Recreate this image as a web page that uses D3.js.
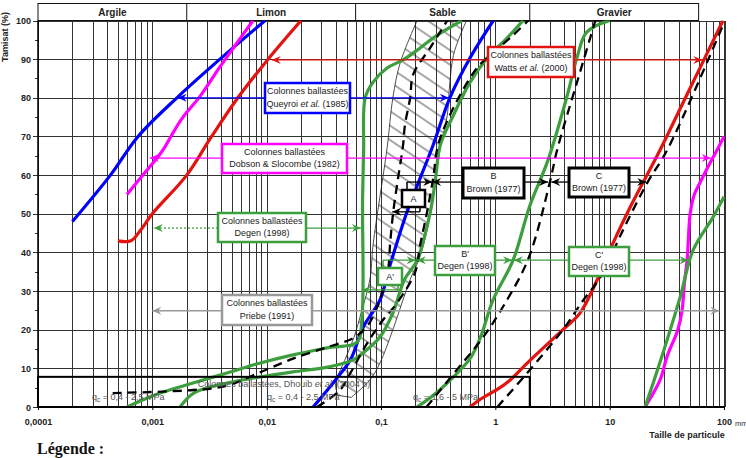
<!doctype html>
<html>
<head>
<meta charset="utf-8">
<title>Fuseaux granulométriques - colonnes ballastées</title>
<script src="https://cdnjs.cloudflare.com/ajax/libs/d3/7.8.5/d3.min.js"></script>
<style>
  body { margin: 0; background: #fff; }
  svg { display: block; font-family: "Liberation Sans", Arial, sans-serif; }
</style>
</head>
<body>
<div id="chart"></div>
<script>
// axes
const xTickValues = [0.0001, 0.001, 0.01, 0.1, 1, 10, 100];
const xTickLabels = ["0,0001", "0,001", "0,01", "0,1", "1", "10", "100"];
const yTickValues = [0, 10, 20, 30, 40, 50, 60, 70, 80, 90, 100];
const soilNames = ["Argile", "Limon", "Sable", "Gravier"];
const soilLimits = [0.0001, 0.002, 0.06, 2, 60];

// grading curves [size mm, passing %]
const queyroiFine = [[0.0002,48],[0.00043,60],[0.00075,70],[0.00164,80],[0.0039,90],[0.0097,100]];
const queyroiCoarse = [[0.0255,0],[0.04,7],[0.054,12.2],[0.07,20.7],[0.098,27.7],[0.12,36.7],[0.169,50.5],[0.22,59.2],[0.286,67.8],[0.4,80],[0.6,90.3],[0.96,100]];
const dobsonFine = [[0.0006,55],[0.0008,59.5],[0.0011,64.4],[0.00124,66.5],[0.0018,74.5],[0.0026,80.3],[0.0039,88],[0.0055,94.2],[0.0076,100]];
const dobsonCoarse = [[20.4,0],[27.6,7],[31.7,13],[39.5,20],[43,25],[45,32],[47.6,38],[50.6,50],[55,55],[61.6,58],[75,63],[87,66.5],[100,70]];
const wattsFine = [[0.0005,43],[0.00065,43],[0.0008,46],[0.001,50],[0.002,60],[0.0033,70],[0.0056,80],[0.0103,90],[0.02,100]];
const wattsCoarse = [[0.6,0],[0.74,2],[1.1,5],[1.35,7],[2,12],[3.9,20],[5.5,24.3],[7.8,33],[10.7,42.4],[15.1,51.7],[27.6,66.5],[46,80],[98,100]];
const degenAFine = [[0.0006,0],[0.00117,3.6],[0.00227,6.2],[0.0045,8.8],[0.0088,11.4],[0.017,13.5],[0.0337,15.3],[0.0617,16.8],[0.068,22.5],[0.069,53.6],[0.0705,66.5],[0.0727,80],[0.085,84],[0.113,87.7],[0.156,89.8],[0.22,92.9],[0.31,96.2],[0.51,100]];
const degenAB = [[0.00175,0],[0.0023,3.6],[0.0045,6.2],[0.0088,7.8],[0.017,9.1],[0.034,10.3],[0.057,12.2],[0.08,15.5],[0.098,18.1],[0.127,24.3],[0.16,32.9],[0.207,38],[0.27,50.5],[0.3,59.2],[0.33,67.8],[0.43,75.5],[0.6,84],[0.85,90.3],[1.27,95.5],[1.75,100]];
const degenBC = [[0.207,0],[0.3,3.5],[0.43,7.8],[0.6,12.5],[0.74,18],[0.955,27.7],[1.43,38],[2.0,52],[2.9,64],[4.2,80],[5.2,90.6],[6.3,97],[10,100]];
const degenCCoarse = [[20.4,0],[26.5,10],[41.4,28.5],[53.7,40.6],[80.5,49.2],[100,54.4]];
const brownAFine = [[0.00045,3.6],[0.0023,4.4],[0.0045,5.5],[0.0088,9],[0.017,12.5],[0.034,15.5],[0.057,17.8],[0.076,21],[0.093,26],[0.104,30.3],[0.115,35],[0.12,42],[0.128,50.5],[0.141,59.2],[0.156,67.8],[0.162,73],[0.18,80],[0.191,86],[0.27,93],[0.38,100]];
const brownAB = [[0.0276,0],[0.044,4.4],[0.054,8.8],[0.076,16.6],[0.104,22.5],[0.138,26.9],[0.199,34.9],[0.22,41.9],[0.253,50.5],[0.286,59.2],[0.316,67.8],[0.43,77.4],[0.69,87.7],[0.9,91],[1.43,96.2],[1.94,100]];
const brownBC = [[0.25,0],[0.46,9.6],[0.78,18],[1.17,26],[1.94,38.3],[3.0,58.2],[3.47,66.5],[5.3,85],[7.5,100]];
const brownCCoarse = [[1.04,0],[1.9,8.8],[3.9,20],[5.9,27.7],[8.3,33.6],[13.1,45.8],[21.3,58],[31.9,66.5],[100,99.4]];
// hatched zone (outline)
const hatchLeft = [[0.207,100],[0.147,89],[0.127,80],[0.113,67],[0.0853,42],[0.08,33],[0.068,25],[0.058,18],[0.048,12],[0.04,6],[0.042,3]];
const hatchRight = [[0.055,2.5],[0.08,7],[0.098,11.4],[0.127,20],[0.18,33],[0.22,39],[0.27,50],[0.33,67],[0.38,75.5],[0.4,84],[0.43,91],[0.49,96],[0.56,100]];

const W = 746, H = 458;
const RED = "#e3130f", BLUE = "#0000ff", MAG = "#ff00ff", GREEN = "#3c9e3c", GREY = "#999";

const svg = d3.select("#chart").append("svg").attr("width", W).attr("height", H);

const x = d3.scaleLog().domain([0.0001, 100]).range([38, 724]);
const y = d3.scaleLinear().domain([0, 100]).range([407, 20.5]);

const defs = svg.append("defs");
defs.append("clipPath").attr("id", "plot")
  .append("rect").attr("x", 38).attr("y", 20.5).attr("width", 687).attr("height", 386.5);

function marker(id, color) {
  defs.append("marker").attr("id", id)
    .attr("viewBox", "-10 -5 11 10").attr("refX", 0).attr("refY", 0)
    .attr("markerWidth", 11).attr("markerHeight", 10)
    .attr("markerUnits", "userSpaceOnUse").attr("orient", "auto")
    .append("path").attr("d", "M-9,-4 L0,0 L-9,4 L-6,0 Z").attr("fill", color);
}
marker("m-red", RED); marker("m-blue", BLUE); marker("m-mag", MAG);
marker("m-green", GREEN); marker("m-grey", GREY); marker("m-black", "#000");

const pat = defs.append("pattern").attr("id", "hatch")
  .attr("patternUnits", "userSpaceOnUse").attr("width", 12).attr("height", 12)
  .attr("patternTransform", "rotate(34)");
pat.append("line").attr("x1", 0).attr("x2", 12).attr("y1", 6).attr("y2", 6)
  .attr("stroke", "#222").attr("stroke-width", 0.8);

// grid
const grid = svg.append("g").attr("stroke", "#333").attr("stroke-width", 1).attr("shape-rendering", "crispEdges");
grid.selectAll("line.v").data(x.ticks()).join("line")
  .attr("x1", d => Math.round(x(d)) + 0.5).attr("x2", d => Math.round(x(d)) + 0.5)
  .attr("y1", y(100)).attr("y2", y(0));
grid.selectAll("line.h").data(yTickValues).join("line")
  .attr("x1", 33).attr("x2", 725)
  .attr("y1", d => Math.round(y(d)) + 0.5).attr("y2", d => Math.round(y(d)) + 0.5);
grid.selectAll("line.m").data(yTickValues.slice(1).map(d => d - 5)).join("line")
  .attr("x1", 35).attr("x2", 38)
  .attr("y1", d => Math.round(y(d)) + 0.5).attr("y2", d => Math.round(y(d)) + 0.5);
grid.append("line").attr("x1", 725.5).attr("x2", 725.5).attr("y1", y(100)).attr("y2", y(0));

// x axis labels
const xAxis = svg.append("g").attr("transform", `translate(0,${y(0)})`)
  .call(d3.axisBottom(x).tickValues(xTickValues).tickSize(3)
    .tickFormat((d, i) => xTickLabels[i]));
xAxis.select(".domain").remove();
xAxis.selectAll("text").attr("font-size", 9).attr("font-weight", "bold")
  .attr("fill", "#222").attr("dy", "1.3em").attr("font-family", "Liberation Sans, Arial, sans-serif");
svg.append("text").attr("x", 735).attr("y", 426).attr("font-size", 7.5).attr("fill", "#333").text("mm");

// y axis labels
svg.append("g").selectAll("text").data(yTickValues).join("text")
  .attr("x", 31).attr("y", d => y(d) + 3.5).attr("text-anchor", "end")
  .attr("font-size", 9).attr("font-weight", "bold").attr("fill", "#222").text(d => d);

svg.append("text").attr("transform", "translate(8,37) rotate(-90)")
  .attr("text-anchor", "middle").attr("font-size", 9).attr("font-weight", "bold")
  .attr("fill", "#222").text("Tamisat (%)");
svg.append("text").attr("x", 687).attr("y", 438).attr("text-anchor", "middle")
  .attr("font-size", 9).attr("font-weight", "bold").attr("fill", "#222").text("Taille de particule");

// soil class header
const head = svg.append("g");
head.append("rect").attr("x", x(soilLimits[0])).attr("y", 3.5)
  .attr("width", x(soilLimits[4]) - x(soilLimits[0])).attr("height", 17)
  .attr("fill", "none").attr("stroke", "#111");
head.selectAll("line").data(soilLimits.slice(1, 4)).join("line")
  .attr("x1", d => x(d)).attr("x2", d => x(d)).attr("y1", 3.5).attr("y2", 20.5).attr("stroke", "#111");
head.selectAll("text").data(soilNames).join("text")
  .attr("x", (d, i) => (x(soilLimits[i]) + x(soilLimits[i + 1])) / 2).attr("y", 15.5)
  .attr("text-anchor", "middle").attr("font-size", 10).attr("font-weight", "bold")
  .attr("fill", "#222").text(d => d);

// hatched zone
const line = d3.line().x(d => x(d[0])).y(d => y(d[1])).curve(d3.curveCatmullRom.alpha(0.5));
const plot = svg.append("g").attr("clip-path", "url(#plot)");
plot.append("path").attr("d", line(hatchLeft) + "L" + line(hatchRight).slice(1) + "Z")
  .attr("fill", "url(#hatch)").attr("stroke", "#222").attr("stroke-width", 0.8);

// curves
const curves = [
  [queyroiFine, BLUE, null], [queyroiCoarse, BLUE, null],
  [dobsonFine, MAG, null], [dobsonCoarse, MAG, null],
  [wattsFine, RED, null], [wattsCoarse, RED, null],
  [degenAFine, GREEN, null], [degenAB, GREEN, null], [degenBC, GREEN, null], [degenCCoarse, GREEN, null],
  [brownAFine, "#000", "9,6"], [brownAB, "#000", "9,6"], [brownBC, "#000", "9,6"], [brownCCoarse, "#000", "9,6"]
];
plot.selectAll("path.curve").data(curves).join("path").attr("class", "curve")
  .attr("d", d => line(d[0])).attr("fill", "none")
  .attr("stroke", d => d[1]).attr("stroke-width", d => d[2] ? 2.3 : 3.2)
  .attr("stroke-dasharray", d => d[2]).attr("stroke-linejoin", "round");

// axis line & Dhouib band
svg.append("line").attr("x1", 38).attr("x2", 725).attr("y1", y(0)).attr("y2", y(0))
  .attr("stroke", "#000").attr("stroke-width", 2);
svg.append("line").attr("x1", 38).attr("x2", 38).attr("y1", y(100)).attr("y2", y(0))
  .attr("stroke", "#000").attr("stroke-width", 1.5);
svg.append("rect").attr("x", x(0.0001)).attr("y", y(7.8))
  .attr("width", x(2) - x(0.0001)).attr("height", y(0) - y(7.8))
  .attr("fill", "none").attr("stroke", "#000").attr("stroke-width", 2);
const dh = svg.append("text").attr("x", 284).attr("y", 387).attr("text-anchor", "middle")
  .attr("font-size", 9).attr("fill", "#555");
dh.append("tspan").text("Colonnes ballastées, Dhouib ");
dh.append("tspan").attr("font-style", "italic").text("et al.");
dh.append("tspan").text(" (2004 b)");
function qc(px, txt) {
  const t = svg.append("text").attr("x", px).attr("y", 400).attr("font-size", 9).attr("fill", "#555");
  t.append("tspan").text("q");
  t.append("tspan").attr("font-size", 6.5).attr("dy", 2).text("c");
  t.append("tspan").attr("dy", -2).text(" = " + txt);
}
qc(92, "0,4 - 2,5 MPa"); qc(267, "0,4 - 2,5 MPa"); qc(413, "1,6 - 5 MPa");

// annotation helpers
function arrow(fromPx, toVal, yVal, color, id, dash, w) {
  svg.append("line").attr("x1", fromPx).attr("x2", x(toVal) - 1)
    .attr("y1", y(yVal)).attr("y2", y(yVal))
    .attr("stroke", color).attr("stroke-width", w || 1.3)
    .attr("stroke-dasharray", dash || null).attr("marker-end", `url(#${id})`);
}
function box(x0, y0, w, h, color, sw, lines) {
  svg.append("rect").attr("x", x0).attr("y", y0).attr("width", w).attr("height", h)
    .attr("fill", "#fff").attr("stroke", color).attr("stroke-width", sw);
  const cy = y0 + h / 2;
  const base = lines.length === 1 ? [cy + 3.5] : [cy - 4, cy + 8.5];
  lines.forEach((ln, i) => {
    const t = svg.append("text").attr("x", x0 + w / 2).attr("y", base[i])
      .attr("text-anchor", "middle").attr("font-size", 9).attr("fill", "#1a1a1a");
    (Array.isArray(ln) ? ln : [ln]).forEach((part, j) => {
      t.append("tspan").attr("font-style", j === 1 ? "italic" : null).text(part);
    });
  });
}

// Watts et al. (2000)
arrow(488, 0.0113, 89.8, RED, "m-red"); arrow(574, 66, 89.8, RED, "m-red");
box(488, 47, 86, 30, RED, 2.5, ["Colonnes ballastées", ["Watts ", "et al.", "  (2000)"]]);
// Queyroi et al. (1985)
arrow(265, 0.0017, 80, BLUE, "m-blue"); arrow(350, 0.4, 80, BLUE, "m-blue");
box(265, 83, 85, 30, BLUE, 2.5, ["Colonnes ballastées", ["Queyroi ", "et al.", "  (1985)"]]);
// Dobson & Slocombe (1982)
arrow(222, 0.00097, 64.4, MAG, "m-mag"); arrow(347, 78, 64.4, MAG, "m-mag");
box(222, 144, 125, 29, MAG, 2.5, ["Colonnes ballastées", "Dobson & Slocombe (1982)"]);
// Degen (1998)
arrow(218, 0.00105, 46.3, GREEN, "m-green", "2,2"); arrow(306, 0.068, 46.3, GREEN, "m-green");
box(218, 213, 88, 29, GREEN, 2.5, ["Colonnes ballastées", "Degen (1998)"]);
// Priebe (1991)
arrow(222, 0.00102, 24.9, GREY, "m-grey"); arrow(312, 93, 24.9, GREY, "m-grey");
box(222, 295, 90, 30, GREY, 2.5, ["Colonnes ballastées", "Priebe (1991)"]);

// Brown (1977) A, B, C
svg.append("path").attr("d", `M407,190 V${y(58.2)} M420,${y(58.2)} V${y(50.5)}`)
  .attr("stroke", "#000").attr("stroke-width", 1.5).attr("fill", "none");
arrow(407, 0.286, 58.2, "#000", "m-black"); arrow(420, 0.128, 50.5, "#000", "m-black");
box(402, 190, 23, 17, "#000", 2.5, ["A"]);
arrow(463, 0.286, 58.2, "#000", "m-black"); arrow(524, 2.95, 58.2, "#000", "m-black");
box(463, 168, 61, 30, "#000", 3, ["B", "Brown (1977)"]);
arrow(569, 3.15, 58.2, "#000", "m-black"); arrow(629, 21.3, 58.2, "#000", "m-black");
box(569, 168, 60, 29, "#000", 3, ["C", "Brown (1977)"]);

// Degen (1998) A', B', C'
svg.append("path").attr("d", `M383,268 V${y(38)} M398,285 V${y(30.3)}`)
  .attr("stroke", GREEN).attr("stroke-width", 1.5).attr("fill", "none");
arrow(383, 0.205, 38, GREEN, "m-green"); arrow(398, 0.0695, 30.3, GREEN, "m-green");
box(378, 268, 24, 17, GREEN, 2.5, ["A'"]);
arrow(435, 0.21, 38, GREEN, "m-green"); arrow(495, 1.43, 38, GREEN, "m-green");
box(435, 246, 60, 29, GREEN, 2.5, ["B'", "Degen (1998)"]);
arrow(569, 1.48, 38, GREEN, "m-green"); arrow(629, 50, 38, GREEN, "m-green");
box(569, 247, 60, 29, GREEN, 2.5, ["C'", "Degen (1998)"]);

// legend title
svg.append("text").attr("x", 37).attr("y", 454).attr("font-family", "Liberation Serif, Times New Roman, serif")
  .attr("font-size", 16).attr("font-weight", "bold").attr("fill", "#111").text("Légende :");
</script>
</body>
</html>
